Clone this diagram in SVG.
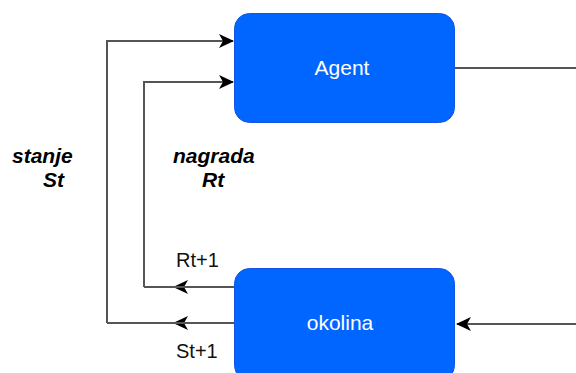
<svg xmlns="http://www.w3.org/2000/svg" width="576" height="373" viewBox="0 0 576 373">
<style>
.box{fill:#0066ff;stroke:#1455e6;stroke-width:1}
.btxt{font-family:"Liberation Sans",Arial,sans-serif;font-size:21px;fill:#ffffff;text-anchor:middle}
.lbl{font-family:"Liberation Sans",Arial,sans-serif;font-size:21px;font-weight:bold;font-style:italic;fill:#000}
.small{font-family:"Liberation Sans",Arial,sans-serif;font-size:20px;fill:#111}
.edge{fill:none;stroke:#555;stroke-width:2}
</style>
<defs>
<marker id="ah" markerUnits="userSpaceOnUse" markerWidth="16" markerHeight="16" viewBox="0 0 16 16" refX="14" refY="8" orient="auto">
<path d="M0,1 L15,8 L0,15 L4,8 Z" fill="#000"/>
</marker>
</defs>
<rect width="576" height="373" fill="#fff"/>
<g id="connectors">
<path class="edge" d="M107,323 V41 H233" marker-end="url(#ah)"/>
<path class="edge" d="M144,287 V82 H233" marker-end="url(#ah)"/>
<path class="edge" d="M234,287 H174" marker-end="url(#ah)"/>
<path class="edge" d="M187,287 H144"/>
<path class="edge" d="M234,323 H174" marker-end="url(#ah)"/>
<path class="edge" d="M187,323 H107"/>
<path class="edge" d="M454,68 H576"/>
<path class="edge" d="M576,324 H457" marker-end="url(#ah)"/>
</g>
<g id="agent">
<rect class="box" x="234.5" y="13.5" width="220" height="109" rx="15" ry="15"/>
<text class="btxt" x="342" y="75">Agent</text>
</g>
<g id="okolina">
<rect class="box" x="234.5" y="268.5" width="220" height="112" rx="15" ry="15"/>
<text class="btxt" x="340" y="330">okolina</text>
</g>
<g id="labels">
<text class="lbl" x="12" y="163">stanje</text>
<text class="lbl" x="43" y="187">St</text>
<text class="lbl" x="173" y="163">nagrada</text>
<text class="lbl" x="202" y="187">Rt</text>
<text class="small" x="176" y="267">Rt+1</text>
<text class="small" x="176" y="358">St+1</text>
</g>
</svg>
